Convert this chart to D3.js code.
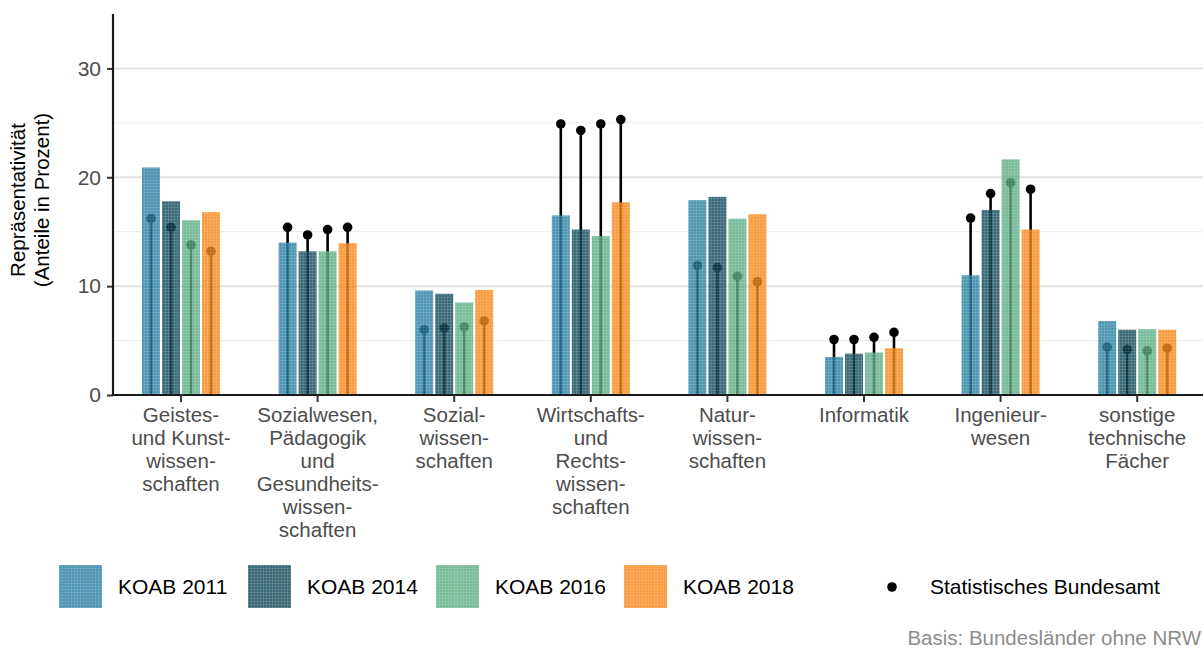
<!DOCTYPE html>
<html>
<head>
<meta charset="utf-8">
<script src="https://cdn.jsdelivr.net/npm/d3@7"></script>
<style>
  body { margin: 0; background: #fff; }
  svg { font-family: "Liberation Sans", Arial, sans-serif; display: block; }
</style>
</head>
<body>
<svg id="chart" width="1203" height="650"></svg>
<script>
// Data
const categories = [
  ["Geistes-", "und Kunst-", "wissen-", "schaften"],
  ["Sozialwesen,", "Pädagogik", "und", "Gesundheits-", "wissen-", "schaften"],
  ["Sozial-", "wissen-", "schaften"],
  ["Wirtschafts-", "und", "Rechts-", "wissen-", "schaften"],
  ["Natur-", "wissen-", "schaften"],
  ["Informatik"],
  ["Ingenieur-", "wesen"],
  ["sonstige", "technische", "Fächer"]
];
const years = ["KOAB 2011", "KOAB 2014", "KOAB 2016", "KOAB 2018"];
const colors = ["#237ca2", "#0d4556", "#57aa7e", "#f68310"];

const koab2011 = [20.9, 14.0, 9.6, 16.5, 17.9, 3.5, 11.0, 6.8];
const koab2014 = [17.8, 13.2, 9.3, 15.2, 18.2, 3.8, 17.0, 6.0];
const koab2016 = [16.05, 13.2, 8.5, 14.6, 16.2, 3.9, 21.65, 6.05];
const koab2018 = [16.8, 13.95, 9.65, 17.7, 16.6, 4.3, 15.2, 6.0];

const destatis2011 = [16.2, 15.4, 6.0, 24.9, 11.9, 5.1, 16.25, 4.4];
const destatis2014 = [15.4, 14.7, 6.15, 24.3, 11.7, 5.1, 18.5, 4.2];
const destatis2016 = [13.8, 15.2, 6.25, 24.9, 10.9, 5.3, 19.5, 4.05];
const destatis2018 = [13.2, 15.4, 6.8, 25.3, 10.4, 5.75, 18.9, 4.3];

const yTicks = [0, 10, 20, 30];
const yMinor = [5, 15, 25];

const koab = [koab2011, koab2014, koab2016, koab2018];
const destatis = [destatis2011, destatis2014, destatis2016, destatis2018];

const rows = [];
categories.forEach((c, i) => {
  years.forEach((yr, j) => {
    rows.push({ cat: i, year: yr, idx: j, koab: koab[j][i], stat: destatis[j][i] });
  });
});

const svg = d3.select("#chart");
const plotLeft = 113, plotRight = 1203, plotTop = 14, plotBottom = 395;

// Scales
const x0 = d3.scaleBand().domain(d3.range(categories.length)).range([112.7, 1205.5]).padding(0);
const x1 = d3.scaleBand().domain(years).range([0, 80]).paddingInner(0.1).paddingOuter(0.05);
const y = d3.scaleLinear().domain([0, 35]).range([plotBottom, plotTop]);
const groupX = i => x0(i) + x0.bandwidth() / 2 - 40;
const barMid = d => groupX(d.cat) + x1(d.year) + x1.bandwidth() / 2;

// Patterns (fine plaid texture)
const defs = svg.append("defs");
years.forEach((yr, j) => {
  const p = defs.append("pattern")
    .attr("id", "pat" + j)
    .attr("patternUnits", "userSpaceOnUse")
    .attr("width", 3).attr("height", 3);
  p.append("rect").attr("width", 3).attr("height", 3).attr("fill", colors[j]);
  p.append("path").attr("d", "M0,0.5H3M0.5,0V3")
    .attr("stroke", "#fff").attr("stroke-opacity", 0.12).attr("stroke-width", 1);
});

// Gridlines
svg.append("g").selectAll("line").data(yMinor).join("line")
  .attr("x1", plotLeft).attr("x2", plotRight)
  .attr("y1", d => y(d)).attr("y2", d => y(d))
  .attr("stroke", "#ebebeb").attr("stroke-width", 1);
svg.append("g").selectAll("line").data(yTicks.filter(d => d > 0)).join("line")
  .attr("x1", plotLeft).attr("x2", plotRight)
  .attr("y1", d => y(d)).attr("y2", d => y(d))
  .attr("stroke", "#e3e3e3").attr("stroke-width", 2);

// Lollipops
const lol = svg.append("g");
lol.selectAll("line").data(rows).join("line")
  .attr("x1", barMid).attr("x2", barMid)
  .attr("y1", y(0)).attr("y2", d => y(d.stat))
  .attr("stroke", "#000").attr("stroke-width", 2.6);
lol.selectAll("circle").data(rows).join("circle")
  .attr("cx", barMid)
  .attr("cy", d => y(d.stat))
  .attr("r", 4.8).attr("fill", "#000");

// Bars
svg.append("g").selectAll("rect").data(rows).join("rect")
  .attr("x", d => groupX(d.cat) + x1(d.year))
  .attr("y", d => y(d.koab))
  .attr("width", x1.bandwidth())
  .attr("height", d => y(0) - y(d.koab))
  .attr("fill", d => `url(#pat${d.idx})`)
  .attr("fill-opacity", 0.8);

// Y axis
const yAxis = svg.append("g")
  .attr("transform", `translate(${plotLeft},0)`)
  .call(d3.axisLeft(y).tickValues(yTicks).tickSize(6).tickPadding(6));
yAxis.select(".domain").remove();
yAxis.selectAll(".tick line").attr("stroke", "#333").attr("stroke-width", 2);
yAxis.selectAll(".tick text").attr("fill", "#4d4d4d").attr("font-size", 21)
  .attr("font-family", "Liberation Sans, Arial, sans-serif");
svg.append("line").attr("x1", plotLeft).attr("x2", plotLeft)
  .attr("y1", plotTop).attr("y2", plotBottom + 1)
  .attr("stroke", "#1a1a1a").attr("stroke-width", 2.2);

// X axis
svg.append("line").attr("x1", plotLeft - 1).attr("x2", plotRight)
  .attr("y1", plotBottom).attr("y2", plotBottom)
  .attr("stroke", "#1a1a1a").attr("stroke-width", 2.2);
const xt = svg.append("g").selectAll("g").data(categories).join("g")
  .attr("transform", (d, i) => `translate(${x0(i) + x0.bandwidth() / 2},${plotBottom})`);
xt.append("line").attr("y1", 0).attr("y2", 7).attr("stroke", "#333").attr("stroke-width", 2);
xt.append("text")
  .attr("text-anchor", "middle")
  .attr("fill", "#4d4d4d").attr("font-size", 20.5)
  .selectAll("tspan").data(d => d).join("tspan")
  .attr("x", 0).attr("y", (d, k) => 27 + k * 23)
  .text(d => d);

// Y title
const yt = svg.append("text")
  .attr("transform", "translate(25,200) rotate(-90)")
  .attr("text-anchor", "middle").attr("font-size", 20.5).attr("fill", "#000");
yt.append("tspan").attr("x", 0).attr("y", 0).text("Repräsentativität");
yt.append("tspan").attr("x", 0).attr("y", 24).text("(Anteile in Prozent)");

// Legend
const legendX = [59, 248, 436, 624];
const lg = svg.append("g").selectAll("g").data(years).join("g")
  .attr("transform", (d, j) => `translate(${legendX[j]},565)`);
lg.append("rect").attr("width", 43).attr("height", 43)
  .attr("fill", (d, j) => `url(#pat${j})`).attr("fill-opacity", 0.8);
lg.append("text").attr("x", 59).attr("y", 29).attr("font-size", 21).attr("fill", "#000")
  .text(d => d);
svg.append("circle").attr("cx", 892).attr("cy", 587).attr("r", 4.8).attr("fill", "#000");
svg.append("text").attr("x", 930).attr("y", 594).attr("font-size", 21).attr("fill", "#000")
  .text("Statistisches Bundesamt");

// Caption
svg.append("text").attr("x", 1201).attr("y", 645).attr("text-anchor", "end")
  .attr("font-size", 20.5).attr("fill", "#8c8c8c")
  .text("Basis: Bundesländer ohne NRW");
</script>
</body>
</html>
